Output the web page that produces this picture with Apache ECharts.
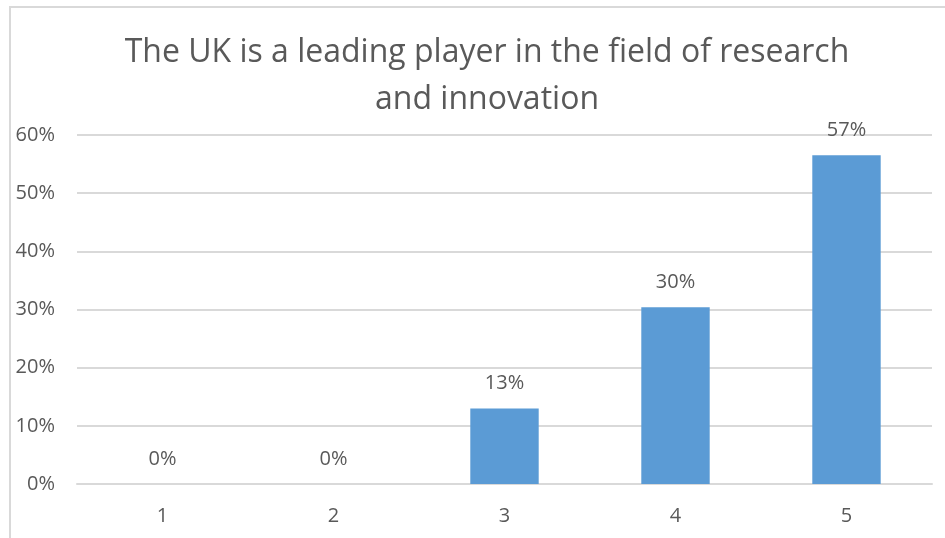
<!DOCTYPE html>
<html>
<head>
<meta charset="utf-8">
<script src="https://cdn.jsdelivr.net/npm/echarts@6/dist/echarts.min.js"></script>
<style>
  html, body { margin: 0; padding: 0; background: #fff; }
  #chart { width: 945px; height: 538px; }
</style>
</head>
<body>
<div id="chart"></div>
<script>
// survey answers 1..5, share of respondents (%)
const categories = ["1", "2", "3", "4", "5"];
const shares = [0, 0, 13.0, 30.4, 56.5];
const yTicks = { min: 0, max: 60, interval: 10 };

const textColor = "#595959";
const font = "Open Sans";

const chart = echarts.init(document.getElementById("chart"));
chart.setOption({
  animation: false,
  textStyle: { fontFamily: font },
  title: {
    text: "The UK is a leading player in the field of research\nand innovation",
    left: 482,
    textAlign: "center",
    top: 24,
    textStyle: {
      fontFamily: font,
      fontSize: 32,
      fontWeight: "normal",
      color: textColor,
      lineHeight: 47
    }
  },
  // chart frame (cropped on the right and bottom)
  graphic: [
    {
      type: "polyline",
      silent: true,
      shape: { points: [[10, 538], [10, 7], [945, 7]] },
      style: { stroke: "#d9d9d9", lineWidth: 2, fill: null }
    }
  ],
  grid: { left: 77, right: 13, top: 135, bottom: 54 },
  xAxis: {
    type: "category",
    data: categories,
    axisTick: { show: false },
    axisLine: { lineStyle: { color: "#d9d9d9", width: 2 } },
    axisLabel: { color: textColor, fontSize: 20, margin: 22 }
  },
  yAxis: {
    type: "value",
    min: yTicks.min,
    max: yTicks.max,
    interval: yTicks.interval,
    axisLine: { show: false },
    axisTick: { show: false },
    splitLine: { lineStyle: { color: "#d9d9d9", width: 2 } },
    axisLabel: { color: textColor, fontSize: 20, margin: 22, formatter: "{value}%" }
  },
  series: [
    {
      type: "bar",
      data: shares,
      barCategoryGap: "60%",
      itemStyle: { color: "#5b9bd5" },
      label: {
        show: true,
        position: "top",
        distance: 15,
        color: textColor,
        fontSize: 20,
        formatter: p => Math.round(p.value) + "%"
      }
    }
  ]
});
</script>
</body>
</html>
